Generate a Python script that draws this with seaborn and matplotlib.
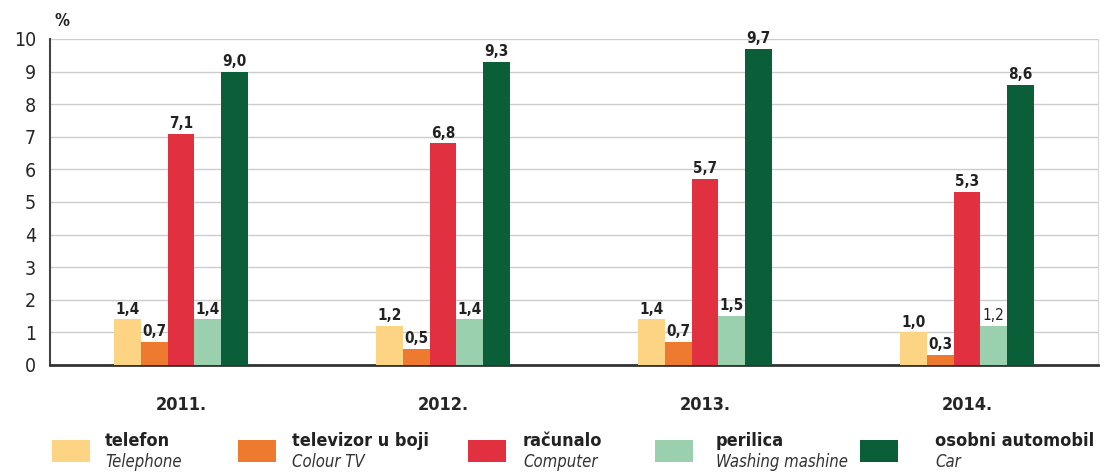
import numpy as np
import pandas as pd
import matplotlib
matplotlib.use("Agg")
import matplotlib.pyplot as plt
import matplotlib.patches as mpatches
import seaborn as sns

# =====================================================
# DATA
# =====================================================
years = ["2011.", "2012.", "2013.", "2014."]
items = ["telefon", "televizor u boji", "računalo", "perilica", "osobni automobil"]
items_en = ["Telephone", "Colour TV", "Computer", "Washing mashine", "Car"]

telefon = [1.4, 1.2, 1.4, 1.0]
televizor = [0.7, 0.5, 0.7, 0.3]
racunalo = [7.1, 6.8, 5.7, 5.3]
perilica = [1.4, 1.4, 1.5, 1.2]
automobil = [9.0, 9.3, 9.7, 8.6]

colors = ["#FDD483", "#EE7A30", "#E1303F", "#9BD0AE", "#0B5F38"]

series = [telefon, televizor, racunalo, perilica, automobil]
df = pd.DataFrame({
    "year": np.repeat([years], len(items), axis=0).ravel(),
    "item": np.repeat(items, len(years)),
    "value": np.concatenate(series),
})

# =====================================================
# STYLE
# =====================================================
sns.set_style("white")
plt.rcParams["font.family"] = ["DejaVu Sans"]
plt.rcParams["font.stretch"] = "condensed"

fig = plt.figure(figsize=(11.06, 4.72), dpi=100)
ax = fig.add_axes([0.0452, 0.2267, 0.9475, 0.6907])

sns.barplot(data=df, x="year", y="value", hue="item", hue_order=items,
            palette=colors, width=0.51, gap=0, saturation=1,
            linewidth=0, edgecolor="none",
            legend=False, ax=ax, zorder=3)

# value labels
for k, (cont, vals) in enumerate(zip(ax.containers, series)):
    labels = [f"{v:.1f}".replace(".", ",") for v in vals]
    texts = ax.bar_label(cont, labels=labels, padding=2, fontsize=11,
                         fontweight="bold", color="#222222")
    if k == 3:
        # the 2014 washing machine label is printed light in the original
        texts[-1].set_fontweight("normal")

# =====================================================
# AXES
# =====================================================
ax.set_ylim(0, 10)
ax.set_xlim(-0.5, 3.5)
ax.set_yticks(range(0, 11))
ax.set_yticklabels([str(i) for i in range(0, 11)], fontsize=14)
ax.tick_params(axis="y", length=0, pad=10)
ax.tick_params(axis="x", length=0, pad=22, labelsize=13)
for lab in ax.get_xticklabels():
    lab.set_fontweight("bold")
ax.set_xlabel("")
ax.set_ylabel("")
ax.yaxis.grid(True, color="#cccccc", linewidth=1)
ax.set_axisbelow(True)

ax.spines["top"].set_visible(False)
ax.spines["right"].set_color("#d8d8d8")
ax.spines["left"].set_color("#444444")
ax.spines["left"].set_linewidth(1.5)
ax.spines["bottom"].set_color("#333333")
ax.spines["bottom"].set_linewidth(2)

fig.text(0.049, 0.945, "%", fontsize=12, fontweight="bold", color="#222222")

# =====================================================
# LEGEND
# =====================================================
patch_x = [52, 238, 468, 655, 860]
text_x = [105, 292, 523, 716, 935]
W, H = 1106, 472
for c, name, en, px, tx in zip(colors, items, items_en, patch_x, text_x):
    fig.patches.append(mpatches.Rectangle((px / W, 1 - 462 / H), 38 / W, 22 / H,
                                          transform=fig.transFigure,
                                          facecolor=c, edgecolor="none"))
    fig.text(tx / W, 1 - 441 / H, name, fontsize=13, fontweight="bold",
             color="#222222", va="center")
    fig.text(tx / W, 1 - 462 / H, en, fontsize=12, style="italic",
             color="#333333", va="center")

plt.savefig("out.png", dpi=100, facecolor="white")
